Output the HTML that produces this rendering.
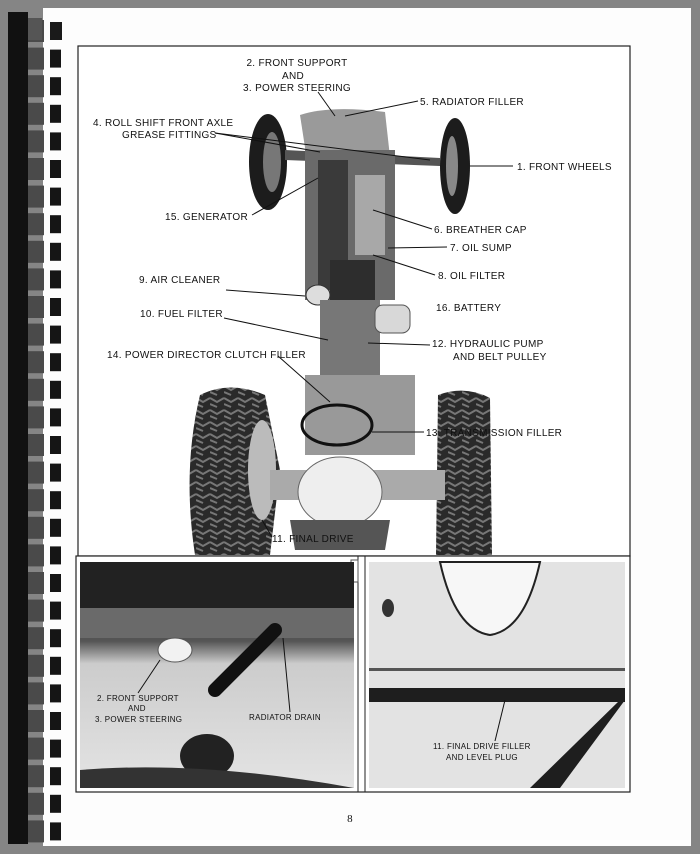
<!DOCTYPE html>
<html><head><meta charset="utf-8"><style>
html,body{margin:0;padding:0;width:700px;height:854px;overflow:hidden;background:#858585}
svg{display:block}
text{font-family:"Liberation Sans",sans-serif;font-size:10px;fill:#111;letter-spacing:0.3px}
.s{font-size:8px}
</style></head><body>
<svg width="700" height="854" viewBox="0 0 700 854">
<defs>
<pattern id="tread" width="14" height="12" patternUnits="userSpaceOnUse">
<rect width="14" height="12" fill="#2a2a2a"/><path d="M0 2 L7 6 L14 2 M0 8 L7 11" stroke="#777" stroke-width="2" fill="none"/>
</pattern>
<linearGradient id="rad" x1="0" y1="0" x2="0" y2="1"><stop offset="0" stop-color="#2d2d2d"/><stop offset="0.35" stop-color="#555"/><stop offset="0.45" stop-color="#ccc"/><stop offset="1" stop-color="#e4e4e4"/></linearGradient>
</defs>
<rect x="0" y="0" width="700" height="854" fill="#858585"/>
<rect x="43" y="8" width="648" height="838" fill="#fdfdfd"/>
<rect x="8" y="12" width="20" height="832" fill="#111"/>
<g id="sp">
</g>
<g fill="#1a1a1a">
<rect x="28" y="20" width="14" height="20" fill="#444"/><rect x="50" y="22" width="12" height="16"/>
</g>
<!-- spiral marks -->
<g>
<script></script>
</g>
<g fill="#1a1a1a" id="marks"></g>
<!-- main frame -->
<rect x="78" y="46" width="552" height="510" fill="#fff" stroke="#222" stroke-width="1.2"/>
<!-- tractor -->
<g>
<ellipse cx="268" cy="162" rx="19" ry="48" fill="#1c1c1c"/>
<ellipse cx="272" cy="162" rx="9" ry="30" fill="#777"/>
<ellipse cx="455" cy="166" rx="15" ry="48" fill="#1c1c1c"/>
<ellipse cx="452" cy="166" rx="6" ry="30" fill="#888"/>
<path d="M285 150 L440 158 L440 166 L285 160Z" fill="#555"/>
<path d="M300 115 Q330 105 385 112 L392 175 L310 180Z" fill="#9a9a9a"/>
<rect x="305" y="150" width="90" height="150" fill="#6a6a6a"/>
<rect x="318" y="160" width="30" height="130" fill="#3a3a3a"/>
<rect x="355" y="175" width="30" height="80" fill="#a8a8a8"/>
<rect x="330" y="260" width="45" height="45" fill="#2d2d2d"/>
<ellipse cx="318" cy="295" rx="12" ry="10" fill="#ddd" stroke="#333"/>
<rect x="320" y="300" width="60" height="80" fill="#777"/>
<rect x="375" y="305" width="35" height="28" rx="8" fill="#d8d8d8" stroke="#555"/>
<rect x="305" y="375" width="110" height="80" fill="#999"/>
<ellipse cx="190" cy="470" rx="0" ry="0"/>
<path d="M200 395 Q230 380 265 395 L280 470 L270 555 L195 555 Q182 470 200 395Z" fill="url(#tread)"/>
<ellipse cx="262" cy="470" rx="14" ry="50" fill="#bbb"/>
<path d="M438 395 Q465 385 490 398 L492 555 L436 555Z" fill="url(#tread)"/>
<rect x="270" y="470" width="175" height="30" fill="#aaa"/>
<ellipse cx="340" cy="492" rx="42" ry="35" fill="#eee" stroke="#666"/>
<ellipse cx="337" cy="425" rx="35" ry="20" fill="none" stroke="#111" stroke-width="3"/>
<path d="M290 520 L390 520 L385 550 L295 550Z" fill="#555"/>
</g>
<!-- leader lines -->
<g stroke="#111" stroke-width="1" fill="none">
<path d="M318 92 L335 116"/><path d="M418 101 L345 116"/>
<path d="M215 133 L320 152"/><path d="M215 133 L430 160"/>
<path d="M513 166 L470 166"/><path d="M252 215 L318 178"/>
<path d="M432 229 L373 210"/><path d="M447 247 L388 248"/>
<path d="M435 275 L373 255"/><path d="M226 290 L305 296"/>
<path d="M224 318 L328 340"/><path d="M430 345 L368 343"/>
<path d="M278 356 L330 402"/><path d="M424 432 L372 432"/>
<path d="M272 537 L262 520"/>
</g>
<g>
<text x="297" y="66" text-anchor="middle">2. FRONT SUPPORT</text>
<text x="293" y="79" text-anchor="middle">AND</text>
<text x="297" y="91" text-anchor="middle">3. POWER STEERING</text>
<text x="420" y="105">5. RADIATOR FILLER</text>
<text x="93" y="126">4. ROLL SHIFT FRONT AXLE</text>
<text x="122" y="138">GREASE FITTINGS</text>
<text x="517" y="170">1. FRONT WHEELS</text>
<text x="165" y="220">15. GENERATOR</text>
<text x="434" y="233">6. BREATHER CAP</text>
<text x="450" y="251">7. OIL SUMP</text>
<text x="438" y="279">8. OIL FILTER</text>
<text x="139" y="283">9. AIR CLEANER</text>
<text x="436" y="311">16. BATTERY</text>
<text x="140" y="317">10. FUEL FILTER</text>
<text x="432" y="347">12. HYDRAULIC PUMP</text>
<text x="453" y="360">AND BELT PULLEY</text>
<text x="107" y="358">14. POWER DIRECTOR CLUTCH FILLER</text>
<text x="426" y="436">13. TRANSMISSION FILLER</text>
<text x="272" y="542">11. FINAL DRIVE</text>
</g>
<!-- bottom photos -->
<rect x="76" y="556" width="554" height="236" fill="#fff" stroke="#222" stroke-width="1.2"/>
<line x1="358" y1="556" x2="358" y2="792" stroke="#222"/>
<line x1="365" y1="556" x2="365" y2="792" stroke="#222"/>
<rect x="351" y="560" width="7" height="22" fill="#fff" stroke="#555"/>
<rect x="80" y="562" width="274" height="226" fill="url(#rad)"/>
<rect x="80" y="562" width="274" height="46" fill="#222"/>
<rect x="80" y="608" width="274" height="30" fill="#6a6a6a"/>
<ellipse cx="175" cy="650" rx="17" ry="12" fill="#f2f2f2" stroke="#555"/>
<path d="M215 690 L275 630" stroke="#111" stroke-width="14" stroke-linecap="round"/>
<ellipse cx="207" cy="756" rx="27" ry="22" fill="#222"/>
<path d="M80 770 Q200 760 354 788 L80 788Z" fill="#333"/>
<rect x="369" y="562" width="256" height="226" fill="#e3e3e3"/>
<path d="M440 562 Q455 630 490 635 Q525 630 540 562Z" fill="#f7f7f7" stroke="#222" stroke-width="2"/>
<rect x="369" y="668" width="256" height="3" fill="#555"/>
<rect x="369" y="688" width="256" height="14" fill="#1e1e1e"/>
<path d="M530 788 L620 700 L625 700 L560 788Z" fill="#1e1e1e"/>
<ellipse cx="388" cy="608" rx="6" ry="9" fill="#333"/>
<g stroke="#111" stroke-width="1"><path d="M138 693 L160 660"/><path d="M290 712 L283 638"/><path d="M495 741 L505 700"/></g>
<g class="s">
<text class="s" x="97" y="701">2. FRONT SUPPORT</text>
<text class="s" x="128" y="711">AND</text>
<text class="s" x="95" y="722">3. POWER STEERING</text>
<text class="s" x="249" y="720">RADIATOR DRAIN</text>
<text class="s" x="433" y="749">11. FINAL DRIVE FILLER</text>
<text class="s" x="446" y="760">AND LEVEL PLUG</text>
</g>
<text x="350" y="822" text-anchor="middle" style="font-family:'Liberation Serif',serif;font-size:11px">8</text>
<g fill="#1a1a1a">
<rect x="28" y="18" width="14" height="22" fill="#555"/><rect x="50" y="22" width="12" height="18"/>
</g>
</svg>
<script>
(function(){var g=document.getElementById('marks'),s='';for(var i=0;i<30;i++){var y=22+i*27.6;s+='<rect x="28" y="'+(y-2)+'" width="16" height="22" fill="#4a4a4a"/><rect x="50" y="'+y+'" width="11" height="18" fill="#151515"/>';}g.innerHTML=s;})();
</script>
</body></html>
